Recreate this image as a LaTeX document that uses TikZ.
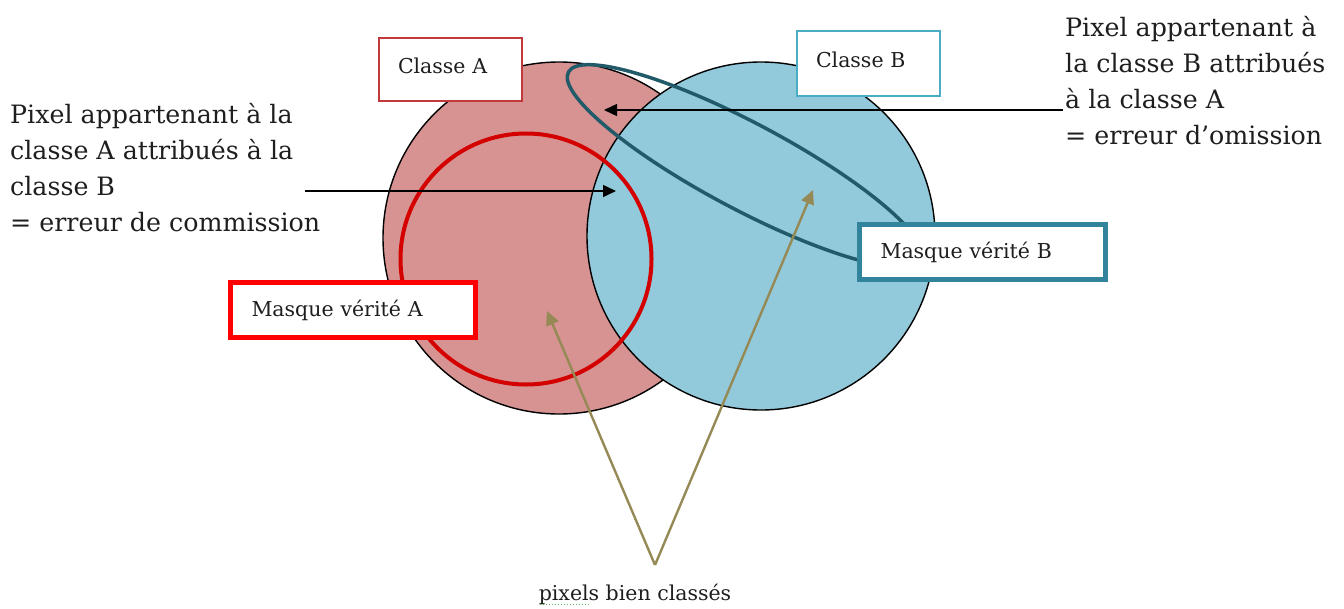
\documentclass[tikz,border=0pt]{standalone}
\usepackage{fontspec}
\setmainfont{DejaVu Serif}
\usetikzlibrary{arrows.meta,shapes.geometric}
\definecolor{afill}{HTML}{D79292}
\definecolor{bfill}{HTML}{92C9DB}
\definecolor{ringred}{HTML}{D40000}
\definecolor{boxred}{HTML}{FF0000}
\definecolor{classAred}{HTML}{C0393B}
\definecolor{classBteal}{HTML}{4BACC6}
\definecolor{maskBteal}{HTML}{31849B}
\definecolor{elteal}{HTML}{215A69}
\definecolor{olive}{HTML}{958A56}
\definecolor{squiggle}{HTML}{5DB85C}
\definecolor{txt}{HTML}{1E1E1E}
\tikzset{
  classcircle/.style={circle, draw=black, line width=1.4pt, inner sep=0pt},
  bigtext/.style={font=\fontsize{25.3}{36}\selectfont, text=txt, align=left, inner sep=0pt, anchor=north west},
  classbox/.style={rectangle, fill=white, line width=1.8pt, font=\fontsize{20.5}{24}\selectfont, text=txt, align=left, inner xsep=19pt, inner ysep=0pt},
  maskbox/.style={rectangle, fill=white, line width=5pt, font=\fontsize{20.5}{24}\selectfont, text=txt, align=left, inner xsep=21pt, inner ysep=0pt},
  blackarrow/.style={draw=black, line width=1.4pt, -{Triangle[length=13pt,width=12pt]}},
  olivearrow/.style={draw=olive, line width=2.4pt, -{Triangle[length=14pt,width=13pt]}}
}
\begin{document}
\begin{tikzpicture}[x=1pt,y=-1pt]
\useasboundingbox (0,0) rectangle (1344,608);
% class circles
\node[classcircle, fill=afill, minimum size=352pt] (cA) at (559,238) {};
\node[classcircle, fill=bfill, minimum size=348pt] (cB) at (761,236) {};
% truth masks
\node[circle, draw=ringred, line width=4pt, minimum size=251pt, inner sep=0pt] (mA) at (526,259) {};
\node[ellipse, draw=elteal, line width=3.5pt, minimum width=400pt, minimum height=86pt, inner sep=0pt, rotate=-28] (mB) at (745,166) {};
% labels in boxes
\node[classbox, draw=classAred, text width=105pt, minimum height=63pt, text depth=8pt] (lA) at (450.5,69.5) {Classe A};
\node[classbox, draw=classBteal, text width=105pt, minimum height=65pt, text depth=8pt] (lB) at (868.5,63.5) {Classe B};
\node[maskbox, draw=boxred, text width=203pt, minimum height=55pt] (bA) at (353,310) {Masque vérité A};
\node[maskbox, draw=maskBteal, text width=204pt, minimum height=55pt] (bB) at (982.5,252) {Masque vérité B};
% explanatory texts
\node[bigtext] (tcom) at (10,103) {Pixel appartenant à la\\classe A attribués à la\\classe B\\= erreur de commission};
\node[bigtext] (tom) at (1065,16) {Pixel appartenant à\\la classe B attribués\\à la classe A\\= erreur d’omission};
\node[font=\fontsize{20.5}{24}\selectfont, text=txt, inner sep=0pt, anchor=base] (tok) at (635,600) {pixels bien classés};
\draw[squiggle, line width=1pt, dotted] ([xshift=1pt,yshift=-4pt]tok.base west) -- ++(49,0);
% arrows
\coordinate (comStart) at (305,191);
\coordinate (comEnd) at (616,191);
\coordinate (omStart) at (1063,110);
\coordinate (omEnd) at (604,110);
\coordinate (apex) at (655,565);
\coordinate (okA) at (547,311);
\coordinate (okB) at (813,190);
\draw[blackarrow] (comStart) -- (comEnd);
\draw[blackarrow] (omStart) -- (omEnd);
\draw[olivearrow] (apex) -- (okA);
\draw[olivearrow] (apex) -- (okB);
\end{tikzpicture}
\end{document}
